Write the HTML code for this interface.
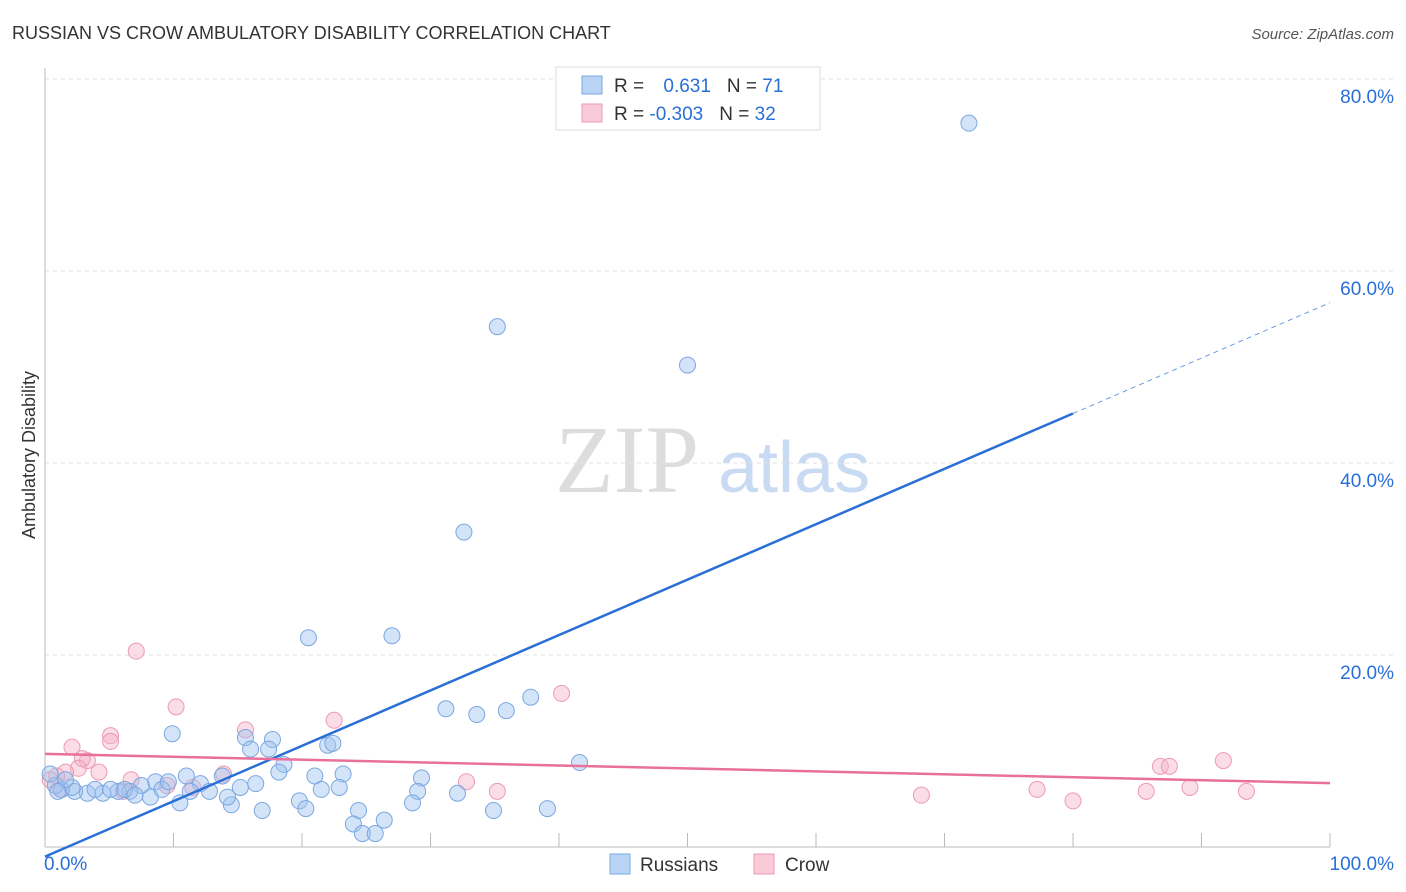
<!DOCTYPE html>
<html><head><meta charset="utf-8">
<style>
body{margin:0;background:#fff;font-family:"Liberation Sans",sans-serif;}
svg{display:block}
</style></head>
<body>
<svg id="chart" width="1406" height="892">
<text x="12" y="39" font-size="18" fill="#333">RUSSIAN VS CROW AMBULATORY DISABILITY CORRELATION CHART</text>
<text x="1394" y="39" font-size="15" fill="#555" font-style="italic" text-anchor="end">Source: ZipAtlas.com</text>
<text x="35" y="455" font-size="18" fill="#333" text-anchor="middle" transform="rotate(-90 35 455)">Ambulatory Disability</text>
<text x="555" y="492" font-size="96" fill="#ddd" font-family="Liberation Serif,serif">ZIP</text>
<text x="718" y="492" font-size="72" fill="#c9daf3">atlas</text>
<g id="grid"></g>
<g id="marks"></g>
<g>
<rect x="556" y="67" width="264" height="63" fill="#fff" stroke="#ddd"/>
<rect x="582" y="76" width="20" height="18" fill="#b9d3f5" stroke="#7aa7e0"/>
<rect x="582" y="104" width="20" height="18" fill="#f9cbd9" stroke="#ee99b5"/>
<text x="614" y="92" font-size="19" fill="#333">R = <tspan fill="#2a6fd6" dx="14">0.631</tspan><tspan dx="16" fill="#333">N = </tspan><tspan fill="#2a6fd6">71</tspan></text>
<text x="614" y="120" font-size="19" fill="#333">R = <tspan fill="#2a6fd6">-0.303</tspan><tspan dx="16" fill="#333">N = </tspan><tspan fill="#2a6fd6">32</tspan></text>
</g>
<g>
<rect x="610" y="854" width="20" height="20" fill="#b9d3f5" stroke="#7aa7e0"/>
<text x="640" y="871" font-size="19" fill="#333">Russians</text>
<rect x="754" y="854" width="20" height="20" fill="#f9cbd9" stroke="#ee99b5"/>
<text x="785" y="871" font-size="19" fill="#333">Crow</text>
</g>
</svg>
<script>
const yTicks=[20,40,60,80];
const yTickLabels=["20.0%","40.0%","60.0%","80.0%"];
const xTickCount=10;
const blueX=[71.9,35.2,50.0,32.6,20.5,27.0,31.2,33.6,35.9,37.8,9.9,15.6,17.7,16.0,17.4,22.0,22.4,18.6,18.2,41.6,11.0,8.6,12.1,13.8,16.4,15.2,21.0,23.2,22.9,21.5,29.3,29.0,32.1,28.6,34.9,39.1,19.8,20.3,24.4,24.0,26.4,24.7,25.7,16.9,14.5,10.5,8.2,9.1,11.3,12.8,14.2,9.6,7.5,6.6,5.7,4.5,3.3,2.3,1.3,0.8,0.4,2.1,3.9,5.1,6.2,7.0,1.6,1.0];
const blueY=[75.4,54.2,50.2,32.8,21.8,22.0,14.4,13.8,14.2,15.6,11.8,11.4,11.2,10.2,10.2,10.6,10.8,8.6,7.8,8.8,7.4,6.8,6.6,7.4,6.6,6.2,7.4,7.6,6.2,6.0,7.2,5.8,5.6,4.6,3.8,4.0,4.8,4.0,3.8,2.4,2.8,1.4,1.4,3.8,4.4,4.6,5.2,6.0,5.8,5.8,5.2,6.8,6.4,5.8,5.8,5.6,5.6,5.8,6.0,6.4,7.6,6.2,6.0,6.0,6.0,5.4,7.0,5.8];
const pinkX=[7.1,10.2,5.1,5.1,2.1,3.3,2.9,2.6,4.2,1.6,0.9,6.7,9.5,11.5,13.9,15.6,22.5,40.2,32.8,35.2,68.2,77.2,80.0,85.7,86.8,87.5,89.1,91.7,93.5,6.1,1.2,0.4];
const pinkY=[20.4,14.6,11.6,11.0,10.4,9.0,9.2,8.2,7.8,7.8,7.4,7.0,6.4,6.2,7.6,12.2,13.2,16.0,6.8,5.8,5.4,6.0,4.8,5.8,8.4,8.4,6.2,9.0,5.8,5.8,6.0,7.0];
const blueLine=[-1.0,56.7];
const pinkLine=[9.7,6.66];
const NS="http://www.w3.org/2000/svg";
const X=v=>45+v*12.85, Y=v=>847-v*9.6;
function mk(t,a,p){const e=document.createElementNS(NS,t);for(const k in a)e.setAttribute(k,a[k]);p.appendChild(e);return e;}
const grid=document.getElementById('grid'), marks=document.getElementById('marks');
yTicks.forEach((t,i)=>{
 const l=mk('line',{x1:45,x2:1394,y1:Y(t),y2:Y(t),stroke:'#e2e2e2','stroke-dasharray':'4,4'},grid);
 
 
 const tx=mk('text',{x:1394,y:Y(t)+24,'font-size':19,fill:'#2a6fd6','text-anchor':'end'},grid);
 tx.textContent=yTickLabels[i];
 
 
});
const ax=mk('line',{x1:45,x2:1330,y1:847,y2:847,stroke:'#bbb'},grid);


const ay=mk('line',{x1:45,x2:45,y1:68,y2:847,stroke:'#bbb'},grid);


for(let i=0;i<=xTickCount;i++){const v=i*100/xTickCount;
 const t=mk('line',{x1:X(v),x2:X(v),y1:833,y2:847,stroke:'#bbb'},grid);
 
 }
const x0=mk('text',{x:44,y:870,'font-size':19,fill:'#2a6fd6'},grid);x0.textContent='0.0%';


const x1=mk('text',{x:1394,y:870,'font-size':19,fill:'#2a6fd6','text-anchor':'end'},grid);x1.textContent='100.0%';


function pts(xs,ys,fill,stroke,name){xs.forEach((x,i)=>{
 const c=mk('circle',{cx:X(x),cy:Y(ys[i]),r:8,fill:fill,stroke:stroke,'stroke-width':1},marks);
 
 });}
pts(pinkX,pinkY,'rgba(245,180,200,0.45)','#ee99b5','crow-point');
pts(blueX,blueY,'rgba(160,196,240,0.45)','#7aa7e0','russians-point');
const by=v=>blueLine[0]+(blueLine[1]-blueLine[0])*v/100;
const b1=mk('line',{x1:X(0),y1:Y(by(0)),x2:X(80),y2:Y(by(80)),stroke:'#2a6fd6','stroke-width':2.5},marks);


const b2=mk('line',{x1:X(80),y1:Y(by(80)),x2:X(100),y2:Y(by(100)),stroke:'#6a9be0','stroke-width':1,'stroke-dasharray':'5,4'},marks);


const p1=mk('line',{x1:X(0),y1:Y(pinkLine[0]),x2:X(100),y2:Y(pinkLine[1]),stroke:'#e8709a','stroke-width':2.5},marks);


</script>
</body></html>
